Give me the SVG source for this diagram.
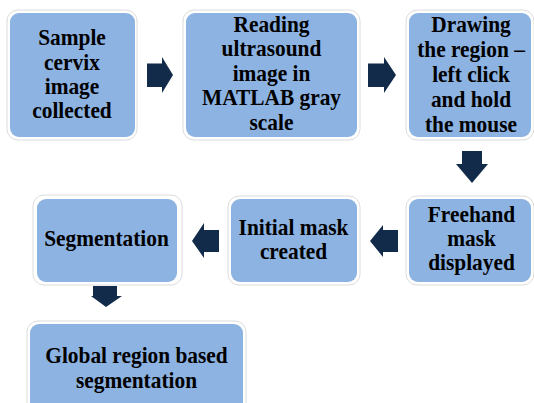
<svg xmlns="http://www.w3.org/2000/svg" width="534" height="403" viewBox="0 0 534 403">
<style>
.o{fill:#ffffff;stroke:#dcdcdc;stroke-width:1}
.b{fill:#8DB3E2;stroke:none}
.t{font-family:"Liberation Serif","Times New Roman",serif;font-weight:bold;font-size:23px;fill:#000;text-anchor:middle}
.a{fill:#132B4A}
</style>
<rect width="534" height="403" fill="#ffffff"/>
<g id="n1">
<rect class="o" x="7" y="10" width="130" height="130" rx="11"/>
<rect class="b" x="10" y="13" width="125" height="124" rx="9"/>
<g transform="translate(72 0) scale(0.93 1)">
<text class="t" x="0" y="45">Sample</text>
<text class="t" x="0" y="70">cervix</text>
<text class="t" x="0" y="94">image</text>
<text class="t" x="0" y="118">collected</text>
</g>
</g>
<g id="n2">
<rect class="o" x="183" y="10" width="177" height="130" rx="11"/>
<rect class="b" x="186" y="13" width="171" height="124" rx="9"/>
<g transform="translate(271.5 0) scale(0.93 1)">
<text class="t" x="0" y="32">Reading</text>
<text class="t" x="0" y="56.5">ultrasound</text>
<text class="t" x="0" y="81">image in</text>
<text class="t" x="0" y="105.5">MATLAB gray</text>
<text class="t" x="0" y="130">scale</text>
</g>
</g>
<g id="n3">
<rect class="o" x="406" y="10" width="128" height="130" rx="11"/>
<rect class="b" x="409" y="13" width="122" height="124" rx="9"/>
<g transform="translate(471 0) scale(0.93 1)">
<text class="t" x="0" y="32">Drawing</text>
<text class="t" x="0" y="57">the region –</text>
<text class="t" x="0" y="82">left click</text>
<text class="t" x="0" y="107">and hold</text>
<text class="t" x="0" y="132">the mouse</text>
</g>
</g>
<g id="n4">
<rect class="o" x="406" y="196" width="128" height="89" rx="11"/>
<rect class="b" x="409" y="199" width="122" height="83" rx="9"/>
<g transform="translate(471.5 0) scale(0.93 1)">
<text class="t" x="0" y="222">Freehand</text>
<text class="t" x="0" y="246.5">mask</text>
<text class="t" x="0" y="270">displayed</text>
</g>
</g>
<g id="n5">
<rect class="o" x="228" y="196" width="132" height="89" rx="11"/>
<rect class="b" x="231" y="199" width="126" height="83" rx="9"/>
<g transform="translate(293.5 0) scale(0.93 1)">
<text class="t" x="0" y="235">Initial mask</text>
<text class="t" x="0" y="259">created</text>
</g>
</g>
<g id="n6">
<rect class="o" x="33" y="195" width="149" height="90" rx="11"/>
<rect class="b" x="37" y="199" width="140" height="83" rx="9"/>
<g transform="translate(106.5 0) scale(0.93 1)">
<text class="t" x="0" y="246">Segmentation</text>
</g>
</g>
<g id="n7">
<rect class="o" x="27" y="321" width="219" height="95" rx="11"/>
<rect class="b" x="30" y="324" width="213" height="90" rx="9"/>
<g transform="translate(136.5 0) scale(0.93 1)">
<text class="t" x="0" y="363">Global region based</text>
<text class="t" x="0" y="388">segmentation</text>
</g>
</g>
<g id="connectors">
<polygon class="a" points="147,63.5 162,63.5 162,57 173,75 162,93 162,87 147,87"/>
<polygon class="a" points="368,63.5 384,63.5 384,57 396,75 384,93 384,87 368,87"/>
<polygon class="a" points="462,151 482,151 482,164 488,164 472,183 456,164 462,164"/>
<polygon class="a" points="398,230 383,230 383,225 370,241 383,257 383,252 398,252"/>
<polygon class="a" points="219,230 204,230 204,223 192,241 204,258 204,252 219,252"/>
<polygon class="a" points="93,286 117,286 117,296 122,296 106,307 91,296 93,296"/>
</g>
</svg>
